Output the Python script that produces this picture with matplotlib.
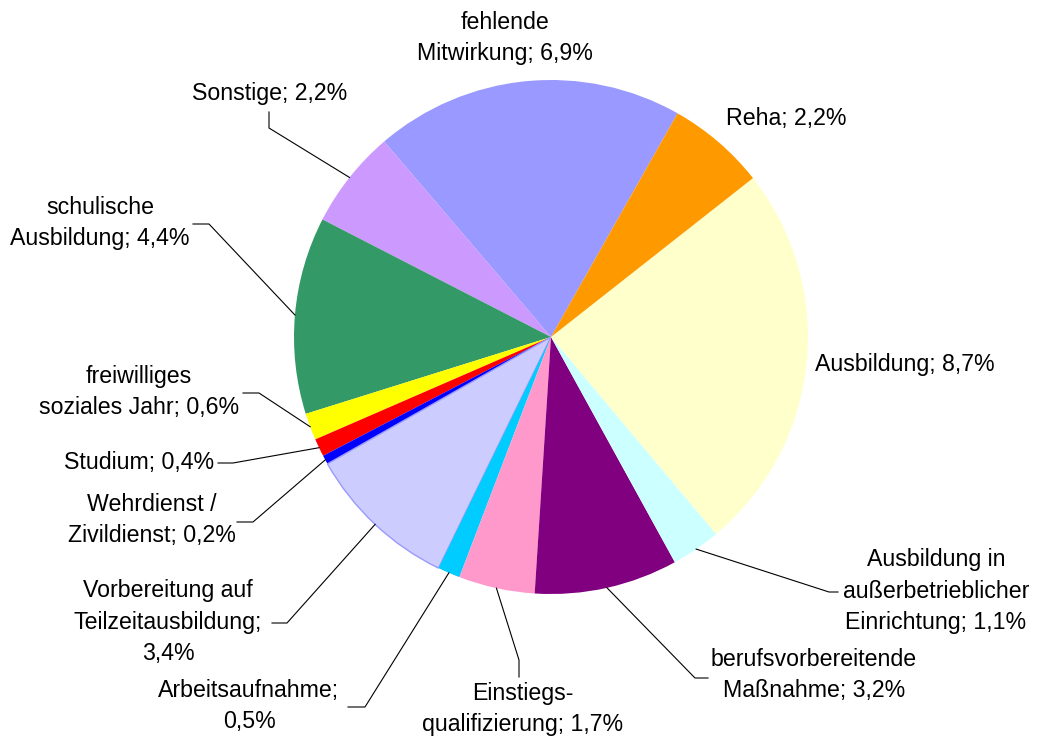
import numpy as np
import matplotlib
matplotlib.use("Agg")
import matplotlib.pyplot as plt

W, H = 1041, 737

# data, counterclockwise starting at the top slice
categories = [
    "fehlende\nMitwirkung", "Sonstige", "schulische\nAusbildung",
    "freiwilliges\nsoziales Jahr", "Studium", "Wehrdienst /\nZivildienst",
    "Vorbereitung auf\nTeilzeitausbildung", "Arbeitsaufnahme",
    "Einstiegs-\nqualifizierung", "berufsvorbereitende\nMaßnahme",
    "Ausbildung in\naußerbetrieblicher\nEinrichtung", "Ausbildung", "Reha",
]
values = [6.9, 2.2, 4.4, 0.6, 0.4, 0.2, 3.4, 0.5, 1.7, 3.2, 1.1, 8.7, 2.2]
value_own_line = [False, False, False, False, False, False, True, True,
                  False, False, False, False, False]
colors = ["#9999FF", "#CC99FF", "#339966", "#FFFF00", "#FF0000", "#0000FF",
          "#CCCCFF", "#00CCFF", "#FF99CC", "#800080", "#CCFFFF", "#FFFFCC",
          "#FF9900"]

# layout in pixel coords (y from top): text pos, ha, leader (elbow, end)
layout = [
    ((505, 38), "center", None),
    ((270, 93), "center", ((269, 128), (269, 112))),
    ((100, 223), "center", ((209, 224), (193, 224))),
    ((139, 392), "center", ((259, 393), (243, 393))),
    ((139, 462), "center", ((233, 463), (218, 463))),
    ((152, 520), "center", ((253, 522), (237, 522))),
    ((168, 622), "center", ((287, 623), (272, 623))),
    ((249, 706), "center", ((365, 707), (348, 707))),
    ((523, 709), "center", ((519, 660), (519, 677))),
    ((814, 675), "center", ((695, 678), (708, 678))),
    ((936, 591), "center", ((829, 592), (838, 592))),
    ((815, 364), "left", None),
    ((726, 118), "left", None),
]

CX, CY, R = 551, 337, 257


def fy(y):
    return H - y


plt.rcParams["font.family"] = ["Liberation Sans", "DejaVu Sans"]

fig = plt.figure(figsize=(W / 100, H / 100), dpi=100)
ax = fig.add_axes([0, 0, 1, 1])
wedges, _ = ax.pie(values, colors=colors, startangle=60.5, counterclock=True,
                   center=(CX, fy(CY)), radius=R,
                   wedgeprops=dict(linewidth=0))
wedges[6].set_edgecolor("#9999FF")
wedges[6].set_linewidth(1.0)
ax.set_xlim(0, W)
ax.set_ylim(0, H)
ax.set_aspect("equal")
ax.axis("off")

for i, (name, val) in enumerate(zip(categories, values)):
    sep = ";\n" if value_own_line[i] else "; "
    label = f"{name}{sep}{val:.1f}%".replace(".", ",")
    (tx, ty), ha, leader = layout[i]
    ax.text(tx, fy(ty), label, ha=ha, va="center", multialignment="center",
            fontsize=16.7, linespacing=1.48, color="black")
    if leader is not None:
        w = wedges[i]
        mid = np.deg2rad((w.theta1 + w.theta2) / 2)
        x0 = w.center[0] + w.r * np.cos(mid)
        y0 = w.center[1] + w.r * np.sin(mid)
        (ex, ey), (sx, sy) = leader
        ax.plot([x0, ex, sx], [y0, fy(ey), fy(sy)], color="black", lw=0.8)

fig.savefig("out.png", dpi=100)
